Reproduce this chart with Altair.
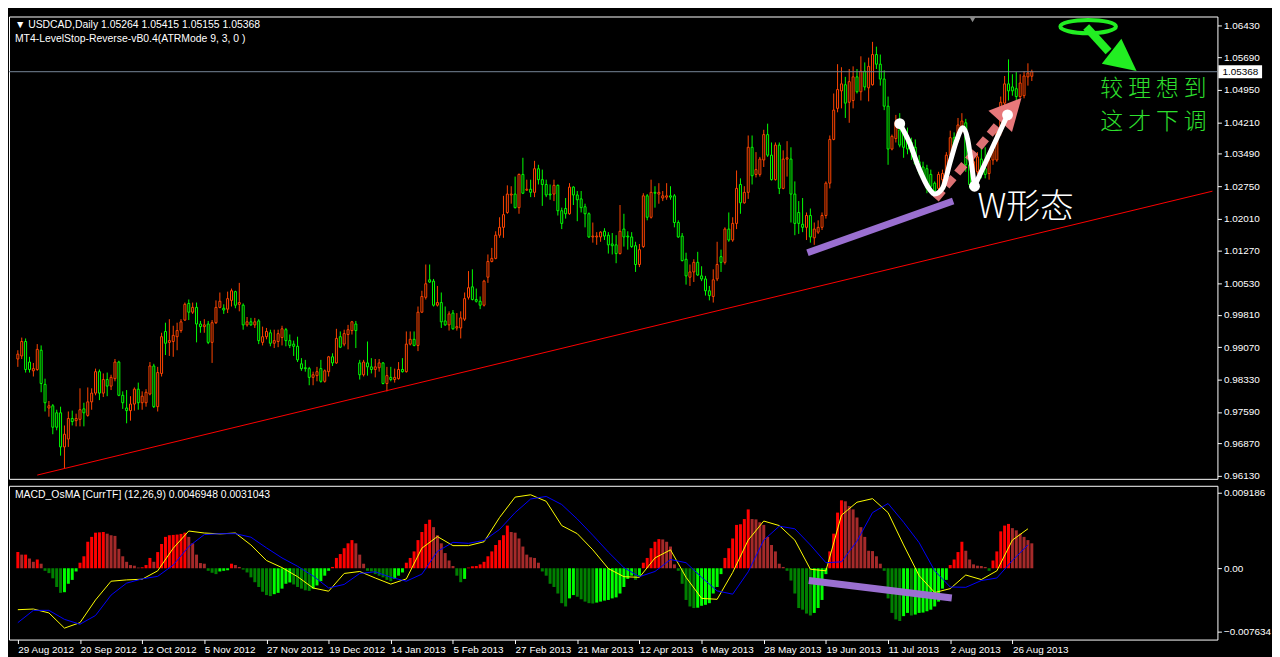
import json
import altair as alt
import pandas as pd
import numpy as np

# ---------------- data ----------------
DATE_LABELS = ["29 Aug 2012", "20 Sep 2012", "12 Oct 2012", "5 Nov 2012", "27 Nov 2012",
               "19 Dec 2012", "14 Jan 2013", "5 Feb 2013", "27 Feb 2013", "21 Mar 2013",
               "12 Apr 2013", "6 May 2013", "28 May 2013", "19 Jun 2013", "11 Jul 2013",
               "2 Aug 2013", "26 Aug 2013"]

PRICE_TICKS = [1.06430, 1.05690, 1.04950, 1.04210, 1.03490, 1.02750, 1.02010, 1.01270,
               1.00530, 0.99810, 0.99070, 0.98330, 0.97590, 0.96870, 0.96130]
MACD_TICKS = [0.009186, 0.0, -0.007634]

OPEN = [0.9880,0.9887,0.9920,0.9873,0.9853,0.9856,0.9900,0.9822,0.9768,0.9773,
0.9757,0.9757,0.9679,0.9697,0.9744,0.9739,0.9742,0.9766,0.9751,0.9782,
0.9802,0.9851,0.9802,0.9833,0.9818,0.9835,0.9873,0.9797,0.9768,0.9762,
0.9777,0.9811,0.9780,0.9780,0.9800,0.9864,0.9771,0.9847,0.9943,0.9918,
0.9920,0.9931,0.9945,0.9969,1.0007,0.9987,0.9998,0.9960,0.9954,0.9960,
0.9918,0.9963,0.9998,0.9996,0.9994,1.0014,1.0034,1.0005,1.0003,0.9958,
0.9965,0.9958,0.9967,0.9918,0.9931,0.9940,0.9916,0.9920,0.9929,0.9947,
0.9922,0.9914,0.9909,0.9869,0.9860,0.9858,0.9838,0.9842,0.9858,0.9829,
0.9851,0.9885,0.9871,0.9931,0.9914,0.9936,0.9945,0.9960,0.9871,0.9844,
0.9871,0.9862,0.9856,0.9860,0.9871,0.9824,0.9838,0.9833,0.9835,0.9856,
0.9851,0.9914,0.9925,0.9911,0.9987,1.0021,1.0061,1.0058,1.0003,1.0009,
0.9967,0.9958,0.9985,0.9951,0.9951,0.9971,1.0021,1.0045,1.0016,1.0012,
1.0003,1.0067,1.0103,1.0110,1.0163,1.0181,1.0215,1.0255,1.0257,1.0226,
1.0302,1.0266,1.0268,1.0261,1.0315,1.0290,1.0279,1.0257,1.0257,1.0277,
1.0219,1.0224,1.0212,1.0273,1.0255,1.0246,1.0228,1.0212,1.0159,1.0159,
1.0159,1.0172,1.0163,1.0143,1.0141,1.0121,1.0177,1.0161,1.0159,1.0139,
1.0096,1.0137,1.0253,1.0204,1.0261,1.0257,1.0248,1.0250,1.0253,1.0253,
1.0192,1.0161,1.0108,1.0067,1.0079,1.0101,1.0070,1.0063,1.0036,1.0023,
1.0063,1.0114,1.0101,1.0177,1.0152,1.0190,1.0279,1.0237,1.0261,1.0364,
1.0302,1.0302,1.0335,1.0393,1.0346,1.0290,1.0369,1.0270,1.0337,1.0337,
1.0257,1.0215,1.0188,1.0181,1.0208,1.0157,1.0170,1.0181,1.0208,1.0282,
1.0382,1.0453,1.0493,1.0507,1.0467,1.0471,1.0525,1.0491,1.0538,1.0500,
1.0507,1.0576,1.0554,1.0520,1.0458,1.0360,1.0384,1.0404,1.0398,1.0391,
1.0375,1.0364,1.0331,1.0319,1.0315,1.0302,1.0282,1.0270,1.0290,1.0302,
1.0346,1.0386,1.0382,1.0404,1.0420,1.0324,1.0293,1.0308,1.0337,1.0315,
1.0304,1.0335,1.0335,1.0398,1.0465,1.0509,1.0502,1.0498,1.0480,1.0482,
1.0525,1.05264]

HIGH = [0.9900,0.9929,0.9927,0.9885,0.9871,0.9914,0.9911,0.9835,0.9784,0.9777,
0.9764,0.9771,0.9728,0.9760,0.9762,0.9755,0.9813,0.9780,0.9815,0.9813,
0.9858,0.9856,0.9847,0.9849,0.9844,0.9880,0.9876,0.9806,0.9809,0.9795,
0.9815,0.9826,0.9806,0.9811,0.9873,0.9869,0.9862,0.9940,0.9963,0.9971,
0.9956,0.9963,0.9971,1.0009,1.0016,1.0009,1.0009,0.9967,0.9971,0.9967,
0.9969,1.0014,1.0032,1.0005,1.0034,1.0041,1.0036,1.0054,1.0007,0.9976,
0.9974,0.9974,0.9971,0.9954,0.9951,0.9947,0.9947,0.9947,0.9956,0.9951,
0.9936,0.9922,0.9931,0.9882,0.9878,0.9862,0.9851,0.9862,0.9878,0.9856,
0.9887,0.9893,0.9949,0.9943,0.9947,0.9958,0.9967,0.9967,0.9878,0.9878,
0.9920,0.9882,0.9880,0.9880,0.9873,0.9862,0.9862,0.9858,0.9873,0.9882,
0.9943,0.9943,0.9943,1.0000,1.0036,1.0096,1.0096,1.0063,1.0047,1.0032,
1.0000,0.9989,0.9992,0.9985,0.9989,1.0032,1.0081,1.0085,1.0041,1.0023,
1.0061,1.0119,1.0134,1.0172,1.0204,1.0253,1.0277,1.0275,1.0297,1.0304,
1.0340,1.0290,1.0290,1.0333,1.0324,1.0313,1.0290,1.0279,1.0290,1.0279,
1.0226,1.0248,1.0282,1.0275,1.0264,1.0264,1.0235,1.0215,1.0192,1.0170,
1.0172,1.0179,1.0170,1.0168,1.0163,1.0232,1.0212,1.0172,1.0170,1.0148,
1.0143,1.0259,1.0257,1.0290,1.0275,1.0282,1.0264,1.0282,1.0275,1.0257,
1.0197,1.0168,1.0123,1.0096,1.0108,1.0125,1.0092,1.0070,1.0047,1.0085,
1.0148,1.0130,1.0181,1.0215,1.0204,1.0311,1.0293,1.0275,1.0391,1.0391,
1.0353,1.0342,1.0404,1.0418,1.0375,1.0375,1.0375,1.0357,1.0378,1.0364,
1.0286,1.0241,1.0248,1.0215,1.0224,1.0192,1.0197,1.0215,1.0286,1.0391,
1.0487,1.0554,1.0547,1.0525,1.0543,1.0549,1.0543,1.0572,1.0558,1.0569,
1.0605,1.0594,1.0576,1.0540,1.0480,1.0393,1.0438,1.0442,1.0420,1.0409,
1.0386,1.0382,1.0346,1.0331,1.0324,1.0313,1.0286,1.0308,1.0313,1.0353,
1.0402,1.0398,1.0431,1.0442,1.0429,1.0337,1.0346,1.0353,1.0364,1.0364,
1.0346,1.0375,1.0404,1.0480,1.0527,1.0565,1.0531,1.0536,1.0531,1.0538,
1.0556,1.05415]

LOW = [0.9862,0.9880,0.9849,0.9849,0.9840,0.9853,0.9804,0.9760,0.9748,0.9708,
0.9717,0.9659,0.9630,0.9679,0.9728,0.9726,0.9726,0.9726,0.9748,0.9764,
0.9797,0.9786,0.9793,0.9795,0.9809,0.9829,0.9795,0.9766,0.9733,0.9739,
0.9762,0.9764,0.9764,0.9771,0.9797,0.9768,0.9760,0.9840,0.9889,0.9887,
0.9885,0.9900,0.9940,0.9967,0.9969,0.9983,0.9918,0.9940,0.9940,0.9914,
0.9871,0.9960,0.9996,0.9983,0.9985,1.0000,0.9996,0.9989,0.9947,0.9954,
0.9956,0.9951,0.9914,0.9911,0.9925,0.9909,0.9905,0.9907,0.9911,0.9909,
0.9905,0.9887,0.9873,0.9853,0.9851,0.9820,0.9820,0.9829,0.9826,0.9826,
0.9840,0.9864,0.9869,0.9905,0.9909,0.9902,0.9936,0.9905,0.9833,0.9840,
0.9842,0.9847,0.9838,0.9851,0.9822,0.9806,0.9829,0.9826,0.9833,0.9849,
0.9849,0.9911,0.9909,0.9898,0.9985,1.0016,1.0054,1.0000,1.0000,0.9951,
0.9956,0.9945,0.9947,0.9945,0.9927,0.9967,1.0016,1.0014,1.0009,0.9994,
1.0000,1.0054,1.0101,1.0108,1.0157,1.0157,1.0212,1.0235,1.0224,1.0212,
1.0257,1.0264,1.0250,1.0250,1.0279,1.0230,1.0250,1.0244,1.0241,1.0208,
1.0177,1.0201,1.0210,1.0232,1.0195,1.0215,1.0181,1.0157,1.0146,1.0141,
1.0148,1.0152,1.0121,1.0119,1.0099,1.0119,1.0137,1.0130,1.0134,1.0079,
1.0090,1.0134,1.0197,1.0201,1.0226,1.0235,1.0241,1.0244,1.0244,1.0181,
1.0157,1.0103,1.0050,1.0047,1.0056,1.0070,1.0058,1.0025,1.0014,1.0009,
1.0058,1.0079,1.0096,1.0148,1.0148,1.0177,1.0212,1.0235,1.0246,1.0279,
1.0295,1.0297,1.0319,1.0342,1.0288,1.0288,1.0257,1.0268,1.0297,1.0192,
1.0163,1.0166,1.0170,1.0152,1.0146,1.0141,1.0166,1.0175,1.0201,1.0270,
1.0380,1.0444,1.0453,1.0431,1.0420,1.0453,1.0487,1.0471,1.0494,1.0469,
1.0505,1.0543,1.0505,1.0449,1.0324,1.0357,1.0375,1.0364,1.0340,1.0348,
1.0335,1.0324,1.0302,1.0286,1.0259,1.0268,1.0257,1.0264,1.0270,1.0297,
1.0342,1.0360,1.0375,1.0398,1.0308,1.0270,1.0286,1.0302,1.0293,1.0293,
1.0290,1.0324,1.0331,1.0391,1.0458,1.0471,1.0482,1.0471,1.0476,1.0476,
1.0505,1.05155]

CLOSE = [0.9891,0.9920,0.9856,0.9856,0.9858,0.9902,0.9824,0.9780,0.9773,0.9724,
0.9724,0.9679,0.9708,0.9744,0.9737,0.9744,0.9764,0.9757,0.9782,0.9802,
0.9851,0.9802,0.9833,0.9818,0.9838,0.9873,0.9797,0.9780,0.9762,0.9777,
0.9811,0.9780,0.9795,0.9804,0.9864,0.9771,0.9849,0.9931,0.9916,0.9922,
0.9934,0.9945,0.9965,1.0005,0.9987,0.9998,0.9960,0.9954,0.9958,0.9918,
0.9963,0.9998,1.0012,0.9992,1.0018,1.0036,1.0003,1.0009,0.9958,0.9965,
0.9958,0.9965,0.9922,0.9931,0.9943,0.9916,0.9922,0.9938,0.9949,0.9922,
0.9911,0.9909,0.9878,0.9858,0.9858,0.9838,0.9844,0.9851,0.9829,0.9853,
0.9885,0.9871,0.9927,0.9907,0.9938,0.9947,0.9965,0.9945,0.9844,0.9873,
0.9862,0.9856,0.9862,0.9871,0.9824,0.9842,0.9833,0.9838,0.9856,0.9851,
0.9914,0.9925,0.9911,0.9987,1.0023,1.0052,1.0056,1.0003,1.0009,0.9965,
0.9958,0.9983,0.9949,0.9954,0.9974,1.0018,1.0043,1.0016,1.0012,1.0003,
1.0058,1.0103,1.0110,1.0163,1.0181,1.0210,1.0257,1.0257,1.0226,1.0302,
1.0259,1.0268,1.0261,1.0315,1.0290,1.0279,1.0255,1.0255,1.0277,1.0219,
1.0190,1.0212,1.0273,1.0255,1.0244,1.0226,1.0212,1.0159,1.0161,1.0161,
1.0170,1.0161,1.0141,1.0139,1.0121,1.0172,1.0159,1.0159,1.0137,1.0096,
1.0130,1.0253,1.0204,1.0261,1.0259,1.0261,1.0253,1.0253,1.0250,1.0192,
1.0159,1.0105,1.0070,1.0079,1.0101,1.0072,1.0063,1.0036,1.0025,1.0061,
1.0096,1.0101,1.0177,1.0152,1.0190,1.0270,1.0237,1.0261,1.0364,1.0299,
1.0313,1.0337,1.0393,1.0346,1.0290,1.0369,1.0270,1.0337,1.0340,1.0257,
1.0190,1.0190,1.0181,1.0208,1.0159,1.0177,1.0181,1.0208,1.0282,1.0382,
1.0449,1.0496,1.0509,1.0465,1.0514,1.0525,1.0491,1.0538,1.0502,1.0549,
1.0576,1.0554,1.0520,1.0458,1.0360,1.0389,1.0422,1.0369,1.0364,1.0360,
1.0353,1.0326,1.0308,1.0293,1.0270,1.0275,1.0264,1.0302,1.0304,1.0346,
1.0386,1.0364,1.0415,1.0424,1.0324,1.0279,1.0331,1.0342,1.0302,1.0302,
1.0335,1.0357,1.0398,1.0467,1.0509,1.0493,1.0493,1.0480,1.0511,1.0527,
1.0534,1.05368]

# OsMA histogram, in units of 1e-4
OSMA_E4 = [19.6,16.5,16.5,11.8,7.8,10.6,5.5,-3.1,-5.9,-12.2,
-22.7,-29.8,-29.0,-18.8,-14.1,-3.9,6.7,14.5,32.1,38.0,
43.1,43.5,43.9,41.9,40.0,39.2,23.5,14.5,7.8,3.9,
3.1,0.8,1.2,3.9,12.5,7.8,19.6,29.4,38.0,40.0,
40.4,40.8,41.6,43.1,38.0,30.2,16.5,6.3,5.5,-3.1,
-5.5,-7.1,-3.9,-3.1,-2.4,5.5,3.9,1.6,-1.6,-5.1,
-11.0,-16.9,-22.7,-28.6,-32.5,-33.7,-31.4,-29.8,-24.7,-18.8,
-17.2,-19.6,-22.7,-24.7,-26.7,-27.4,-24.7,-20.8,-15.7,-9.0,
-3.1,1.6,12.5,17.2,24.3,30.2,34.1,30.2,16.5,5.5,
-3.1,-3.9,-7.1,-9.0,-11.0,-14.1,-15.7,-12.9,-9.0,-5.1,
6.7,12.5,20.4,34.1,43.9,53.7,58.8,49.8,40.0,30.2,
18.4,9.4,2.7,-9.0,-16.9,-12.9,0.8,2.4,2.7,4.7,
7.8,14.5,20.4,28.2,34.1,40.0,51.7,43.9,43.1,36.1,
26.3,16.5,13.3,12.5,6.7,-3.9,-9.0,-18.8,-22.7,-30.6,
-42.3,-46.3,-36.5,-32.5,-34.5,-37.6,-40.4,-42.3,-42.7,-41.6,
-40.4,-39.2,-38.4,-36.5,-35.3,-30.6,-22.7,-12.9,-9.0,-14.1,
-9.0,6.7,12.5,24.3,32.1,35.3,34.9,32.1,26.3,4.7,
-3.1,-18.8,-38.4,-46.3,-48.2,-47.8,-45.5,-44.3,-42.3,-30.6,
-22.7,-7.1,12.5,24.3,36.1,52.5,53.3,59.6,71.3,59.6,
59.2,55.7,52.5,38.0,28.2,20.4,5.5,1.6,-3.1,-14.9,
-30.6,-48.2,-50.2,-54.9,-57.2,-54.1,-48.2,-38.4,-7.1,20.4,
41.9,67.4,82.3,81.1,75.3,71.3,61.5,49.8,38.0,21.2,
20.8,14.5,5.5,-3.1,-36.5,-54.1,-62.0,-63.9,-58.0,-54.1,
-57.2,-56.1,-54.1,-53.7,-52.1,-50.2,-46.3,-40.4,-24.7,-14.1,
3.9,10.6,19.6,32.1,21.2,10.6,4.7,3.1,2.7,1.6,
-3.1,9.4,20.4,44.7,51.7,53.7,48.6,45.9,41.9,38.0,
34.1,30.2]

# MACD (yellow) and signal (blue) lines, read every 4 bars, units of 1e-4
LINE_STEP = 4
MACD_E4 = [-50.2,-49.4,-54.1,-72.5,-65.9,-38.4,-15.7,-14.1,-13.3,-3.1,
24.3,45.1,42.7,41.6,42.7,28.2,9.4,0.8,-10.2,-23.9,
-27.8,-6.3,-3.9,-11.8,-19.2,-12.9,24.3,38.4,27.4,27.4,
32.1,61.5,86.2,89.0,81.1,51.7,41.9,22.3,-0.4,-10.2,
-11.0,12.5,22.3,-11.0,-36.5,-37.6,-5.1,34.1,57.2,51.7,
34.1,-1.2,-3.1,64.3,80.0,84.3,67.4,28.2,-9.0,-29.4,
-24.7,-8.2,-13.7,-3.1,34.1,47.8]
SIGNAL_E4 = [-65.9,-51.0,-51.0,-61.9,-67.8,-57.2,-32.5,-18.0,-12.9,-9.8,
3.9,26.3,40.8,41.9,41.9,37.6,24.7,12.5,2.4,-9.4,
-23.9,-19.6,-6.3,-4.3,-11.0,-15.7,-7.1,20.4,31.4,30.2,
33.7,47.0,67.4,83.9,87.0,77.2,59.6,40.0,19.6,0.8,
-10.2,-3.9,10.6,6.7,-11.0,-27.4,-31.4,-4.3,34.1,51.0,
47.8,28.2,6.7,7.8,32.9,67.4,78.4,55.7,31.0,-3.1,
-22.7,-23.1,-14.9,-11.8,9.4,28.2]

TREND_I = [5, 307.5]
TREND_P = [0.96146, 1.02637]
BID = 1.05368

# annotations (bar index, value)
PURPLE_TOP_I = [203.25, 240.75]; PURPLE_TOP_P = [1.0123, 1.0241]
PURPLE_BOT_I = [203.6, 240.4];   PURPLE_BOT_V = [-0.00149, -0.00360]
W_CURVE_I = [227.0, 229.5, 232.0, 234.5, 236.0, 238.0, 240.0, 241.75, 243.25, 244.5, 245.5, 246.25]
W_CURVE_P = [1.0418, 1.0375, 1.0315, 1.0270, 1.0257, 1.0270, 1.0331, 1.0382, 1.0409, 1.0382, 1.0324, 1.0275]
W_LEG_I = [246.25, 254.75]; W_LEG_P = [1.0275, 1.0438]
W_DOTS_I = [227.0, 246.25, 254.75]; W_DOTS_P = [1.0418, 1.0275, 1.0438]
PINK_I = [236.25, 253.0]; PINK_P = [1.0246, 1.0424]
PINK_HEAD = (255.6, 1.0450, 42)
GREEN_RING = (275.5, 1.0640)
GREEN_SHAFT_I = [275.0, 280.75]; GREEN_SHAFT_P = [1.0639, 1.0583]
GREEN_HEAD = (284.75, 1.0561, 128)

# ---------------- chart ----------------
W = 1218
H_TOP = 466
H_BOT = 155

n = len(CLOSE)
idx = list(range(n))
candles = pd.DataFrame(dict(i=idx, open=OPEN, high=HIGH, low=LOW, close=CLOSE))
candles["col"] = np.where(candles["close"] >= candles["open"], "#ff4500", "#00ff00")

xscale = alt.Scale(domain=[-1, 307.5], nice=False, zero=False)
XT = alt.X("i:Q", scale=xscale, axis=None, title=None)

price_scale = alt.Scale(domain=[0.9606, 1.0663], nice=False, zero=False)
price_axis = alt.Axis(orient="right", values=PRICE_TICKS, format=".5f", title=None,
                      tickSize=4, labelPadding=2, grid=False, domain=False)


def PY(f):
    return alt.Y(f, scale=price_scale, axis=price_axis, title=None)


FONT = "Liberation Sans"
CJK = "Noto Sans CJK SC"
TRI = "M0,-1L1,1L-1,1Z"
ELLIPSE = "M-1,0A1,0.24,0,1,0,1,0A1,0.24,0,1,0,-1,0Z"
BOX = "M-1,-0.3L1,-0.3L1,0.3L-1,0.3Z"

wicks = alt.Chart(candles).mark_rule(strokeWidth=1).encode(
    x=XT, y=PY("low:Q"), y2="high:Q", color=alt.Color("col:N", scale=None))
bodies = alt.Chart(candles).mark_bar(size=2, strokeWidth=1, fill="black").encode(
    x=XT, y=PY("open:Q"), y2="close:Q", stroke=alt.Stroke("col:N", scale=None))

trend = alt.Chart(pd.DataFrame(dict(i=TREND_I, p=TREND_P))).mark_line(
    color="#ff0000", strokeWidth=1).encode(x=XT, y=PY("p:Q"))
bid = alt.Chart(pd.DataFrame(dict(p=[BID]))).mark_rule(color="#778899", strokeWidth=1).encode(y=PY("p:Q"))

purple_top = alt.Chart(pd.DataFrame(dict(i=PURPLE_TOP_I, p=PURPLE_TOP_P))).mark_line(
    color="#9a6fd0", strokeWidth=7).encode(x=XT, y=PY("p:Q"))

pink = alt.Chart(pd.DataFrame(dict(i=PINK_I, p=PINK_P))).mark_line(
    color="#e8787a", strokeWidth=8, strokeDash=[11, 6], opacity=0.95).encode(x=XT, y=PY("p:Q"))
pink_head = alt.Chart(pd.DataFrame(dict(i=[PINK_HEAD[0]], p=[PINK_HEAD[1]]))).mark_point(
    shape=TRI, size=1024, filled=True, color="#e8787a", opacity=1, angle=PINK_HEAD[2]).encode(x=XT, y=PY("p:Q"))

w_curve = alt.Chart(pd.DataFrame(dict(i=W_CURVE_I, p=W_CURVE_P))).mark_line(
    color="white", strokeWidth=5, interpolate="monotone", strokeCap="round", strokeJoin="round").encode(
    x=XT, y=PY("p:Q"))
w_leg = alt.Chart(pd.DataFrame(dict(i=W_LEG_I, p=W_LEG_P))).mark_line(
    color="white", strokeWidth=5, strokeCap="round").encode(x=XT, y=PY("p:Q"))
w_dots = alt.Chart(pd.DataFrame(dict(i=W_DOTS_I, p=W_DOTS_P))).mark_point(
    shape="circle", size=120, filled=True, color="white", opacity=1).encode(x=XT, y=PY("p:Q"))
w_text = alt.Chart(pd.DataFrame(dict(i=[247.0], p=[1.0224], t=["W形态"]))).mark_text(
    font=CJK, fontSize=34, fontWeight=300, color="white", align="left", baseline="middle").encode(
    x=XT, y=PY("p:Q"), text="t:N")

green_text = alt.Chart(pd.DataFrame(dict(i=[306.0, 306.0], p=[1.0498, 1.0422],
                                         t=["较 理 想 到", "这 才 下 调"]))).mark_text(
    font=CJK, fontSize=23, fontWeight=300, color="#2ee02e", align="right", baseline="middle").encode(
    x=XT, y=PY("p:Q"), text="t:N")
green_ring = alt.Chart(pd.DataFrame(dict(i=[GREEN_RING[0]], p=[GREEN_RING[1]]))).mark_point(
    shape=ELLIPSE, size=3136, filled=False, color="#22ee22", strokeWidth=4, opacity=1).encode(
    x=XT, y=PY("p:Q"))
green_shaft = alt.Chart(pd.DataFrame(dict(i=GREEN_SHAFT_I, p=GREEN_SHAFT_P))).mark_line(
    color="#22ee22", strokeWidth=8).encode(x=XT, y=PY("p:Q"))
green_head = alt.Chart(pd.DataFrame(dict(i=[GREEN_HEAD[0]], p=[GREEN_HEAD[1]]))).mark_point(
    shape=TRI, size=1024, filled=True, color="#22ee22", opacity=1, angle=GREEN_HEAD[2]).encode(
    x=XT, y=PY("p:Q"))

shift_mark = alt.Chart(pd.DataFrame(dict(i=[245.75]))).mark_point(
    shape="triangle-down", size=40, filled=True, color="#8a8a8a", opacity=1).encode(
    x=XT, y=alt.value(3))

hdr = pd.DataFrame(dict(t=["▼ USDCAD,Daily  1.05264 1.05415 1.05155 1.05368",
                           "MT4-LevelStop-Reverse-vB0.4(ATRMode 9, 3, 0 )"], y=[9, 23]))
headers = alt.Chart(hdr).mark_text(font=FONT, fontSize=10.5, color="white", align="left",
                                   baseline="middle").encode(
    x=alt.value(6), y=alt.Y("y:Q", scale=None), text="t:N")

bid_box = alt.Chart(pd.DataFrame(dict(p=[BID]))).mark_point(
    shape=BOX, size=1936, filled=True, color="white", opacity=1).encode(
    x=alt.value(W + 23), y=PY("p:Q"))
bid_text = alt.Chart(pd.DataFrame(dict(p=[BID], t=["1.05368"]))).mark_text(
    font=FONT, fontSize=10, color="black", align="left", baseline="middle").encode(
    x=alt.value(W + 5), y=PY("p:Q"), text="t:N")

top = alt.layer(wicks, bodies, trend, bid, purple_top, pink, pink_head, w_curve, w_leg, w_dots,
                w_text, green_text, green_ring, green_shaft, green_head, shift_mark, headers,
                bid_box, bid_text).properties(width=W, height=H_TOP)

# ---- MACD panel ----
hist = pd.DataFrame(dict(i=idx, v=np.array(OSMA_E4) / 1e4))
prev = hist["v"].shift(1).fillna(hist["v"])
rising = hist["v"] >= prev
hist["col"] = np.select([(hist["v"] >= 0) & rising, (hist["v"] >= 0) & ~rising, (hist["v"] < 0) & ~rising],
                        ["#ff0000", "#a52a2a", "#008000"], "#00ff00")
hist["zero"] = 0.0

li = list(range(0, LINE_STEP * len(MACD_E4), LINE_STEP))
lines = pd.concat([
    pd.DataFrame(dict(i=li, v=np.array(MACD_E4) / 1e4, col="#ffff00", s="macd")),
    pd.DataFrame(dict(i=li, v=np.array(SIGNAL_E4) / 1e4, col="#0000ff", s="signal")),
])

date_expr = json.dumps(DATE_LABELS) + "[round(datum.value/16)]"
XB = alt.X("i:Q", scale=xscale, title=None,
           axis=alt.Axis(values=list(range(0, 257, 16)), labelExpr=date_expr, orient="bottom",
                         tickSize=4, labelAlign="left", labelPadding=1, domain=False, grid=False,
                         labelFlush=False, labelOverlap=False))
macd_scale = alt.Scale(domain=[-0.00864, 0.00999], nice=False, zero=False)
macd_axis = alt.Axis(orient="right", values=MACD_TICKS, title=None, tickSize=4, labelPadding=2,
                     grid=False, domain=False,
                     labelExpr="datum.value == 0 ? '0.00' : format(datum.value, '.6f')")


def MY(f):
    return alt.Y(f, scale=macd_scale, axis=macd_axis, title=None)


bars = alt.Chart(hist).mark_bar(size=3).encode(
    x=XB, y=MY("v:Q"), y2="zero:Q", color=alt.Color("col:N", scale=None))
mlines = alt.Chart(lines).mark_line(strokeWidth=1).encode(
    x=XB, y=MY("v:Q"), color=alt.Color("col:N", scale=None), detail="s:N")
purple_bot = alt.Chart(pd.DataFrame(dict(i=PURPLE_BOT_I, v=PURPLE_BOT_V))).mark_line(
    color="#9a6fd0", strokeWidth=7).encode(x=XB, y=MY("v:Q"))
macd_hdr = alt.Chart(pd.DataFrame(dict(t=["MACD_OsMA [CurrTF] (12,26,9) 0.0046948 0.0031043"]))).mark_text(
    font=FONT, fontSize=10.5, color="white", align="left", baseline="middle").encode(
    x=alt.value(6), y=alt.value(9), text="t:N")

bottom = alt.layer(bars, mlines, purple_bot, macd_hdr).properties(width=W, height=H_BOT)

chart = alt.vconcat(top, bottom, spacing=3).properties(
    padding=0, background="black"
).configure_view(stroke="white", strokeWidth=1).configure_axis(
    labelColor="white", tickColor="white", labelFont=FONT, labelFontSize=10, domain=False, grid=False
)

chart.save("out.html", embed_options={"renderer": "svg", "actions": False})
